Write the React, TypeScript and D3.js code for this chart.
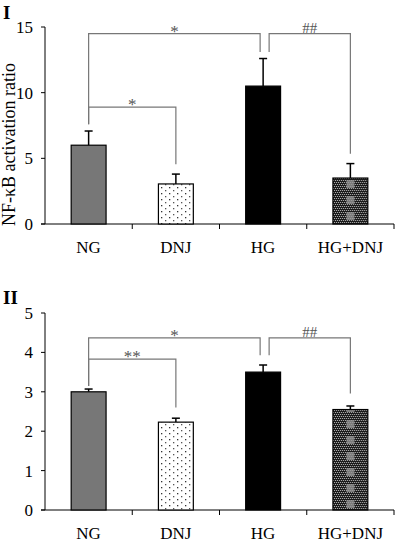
import React from 'react'
import * as d3 from 'd3'

const categories = ['NG', 'DNJ', 'HG', 'HG+DNJ']

// panel I: NF-kB activation ratio
const meansI = [6.0, 3.05, 10.5, 3.5]
const errorsI = [1.08, 0.75, 2.1, 1.1]
const ticksI = [0, 5, 10, 15]

// panel II
const meansII = [3.0, 2.23, 3.5, 2.55]
const errorsII = [0.07, 0.1, 0.18, 0.09]
const ticksII = [0, 1, 2, 3, 4, 5]

// significance brackets
type Bracket = { a: number; b: number; level: number; dropA: number; dropB: number; mark: string; gapLeft?: boolean }
const bracketsI: Bracket[] = [
  { a: 0, b: 2, level: 14.5, dropA: 7.6, dropB: 13.1, mark: '*' },
  { a: 0, b: 1, level: 8.9, dropA: 7.6, dropB: 4.55, mark: '*' },
  { a: 2, b: 3, level: 14.5, dropA: 13.1, dropB: 5.35, mark: '##', gapLeft: true },
]
const bracketsII: Bracket[] = [
  { a: 0, b: 2, level: 4.37, dropA: 3.15, dropB: 3.93, mark: '*' },
  { a: 0, b: 1, level: 3.83, dropA: 3.15, dropB: 2.6, mark: '**' },
  { a: 2, b: 3, level: 4.37, dropA: 3.93, dropB: 2.96, mark: '##', gapLeft: true },
]

const FONT = '"Liberation Serif", "Times New Roman", serif'
const fills = ['#777777', 'url(#dots)', '#000000', 'url(#checks)']

const left = 45
const right = 394
const x = d3.scaleBand<string>().domain(categories).range([left, right]).padding(0)
const bw = x.bandwidth() * 0.4
const cx = (i: number) => (x(categories[i]) as number) + x.bandwidth() / 2

interface PanelProps {
  title: string
  titleY: number
  means: number[]
  errors: number[]
  ticks: number[]
  brackets: Bracket[]
  top: number
  bottom: number
  yLabel?: string
}

const Panel: React.FC<PanelProps> = ({ title, titleY, means, errors, ticks, brackets, top, bottom, yLabel }) => {
  const y = d3.scaleLinear().domain([0, ticks[ticks.length - 1]]).range([bottom, top])
  const bounds = categories.map(c => (x(c) as number) + x.bandwidth())

  return (
    <g>
      <text x={3} y={titleY} fontFamily={FONT} fontWeight="bold" fontSize={19}>{title}</text>
      {yLabel && (
        <text transform={`translate(15,${bottom + 2}) rotate(-90)`} textAnchor="start"
          fontFamily={FONT} fontSize={18}>{yLabel}</text>
      )}
      {/* y axis */}
      <line x1={left} x2={left} y1={top} y2={bottom} stroke="#000" />
      {ticks.map(t => (
        <g key={t}>
          <line x1={left - 4} x2={left} y1={y(t)} y2={y(t)} stroke="#000" />
          <text x={left - 12} y={y(t)} dy="0.35em" textAnchor="end" fontFamily={FONT} fontSize={17}>{t}</text>
        </g>
      ))}
      {/* x axis */}
      <line x1={left - 4} x2={right} y1={bottom} y2={bottom} stroke="#000" />
      {bounds.map((b, i) => (
        <line key={i} x1={b} x2={b} y1={bottom} y2={bottom + 5} stroke="#000" />
      ))}
      {categories.map((c, i) => (
        <text key={c} x={cx(i)} y={bottom + 29} textAnchor="middle" fontFamily={FONT} fontSize={17}>{c}</text>
      ))}
      {/* bars */}
      {means.map((m, i) => (
        <g key={i}>
          <line x1={cx(i)} x2={cx(i)} y1={y(m)} y2={y(m + errors[i])} stroke="#000" strokeWidth={1.5} />
          <line x1={cx(i) - 4} x2={cx(i) + 4} y1={y(m + errors[i])} y2={y(m + errors[i])} stroke="#000" strokeWidth={1.5} />
          <rect x={cx(i) - bw / 2} y={y(m)} width={bw} height={bottom - y(m)} fill={fills[i]} stroke="#000" strokeWidth={1.2} />
        </g>
      ))}
      {/* significance brackets */}
      {brackets.map((br, i) => {
        const xa = cx(br.a) + (br.gapLeft ? 6 : 0)
        const xb = cx(br.b) - (br.b === 2 ? 3 : 0)
        const ly = y(br.level)
        const mx = (xa + xb) / 2
        return (
          <g key={i}>
            <path d={`M${xa},${y(br.dropA)}V${ly}H${xb}V${y(br.dropB)}`} fill="none" stroke="#777" strokeWidth={1.2} />
            <text x={mx} y={br.mark.startsWith('#') ? ly - 1 : ly + 3} textAnchor="middle" fontFamily={FONT}
              fontSize={br.mark.startsWith('#') ? 15 : 17} fill="#555">{br.mark}</text>
          </g>
        )
      })}
    </g>
  )
}

export default function App() {
  const px = cx(3) - bw / 2
  return (
    <svg width={402} height={556} style={{ position: 'absolute', left: 0, top: 0, background: '#fff' }}>
      <defs>
        <pattern id="dots" width={8} height={6} patternUnits="userSpaceOnUse">
          <rect width={8} height={6} fill="#fff" />
          <rect x={1} y={1} width={1.3} height={1.3} fill="#333" />
          <rect x={5} y={4} width={1.3} height={1.3} fill="#555" />
        </pattern>
        <pattern id="checks" x={px} y={0} width={bw} height={16} patternUnits="userSpaceOnUse">
          <rect width={bw} height={16} fill="#1a1a1a" />
          {d3.range(0, Math.ceil(bw), 2).flatMap(i => d3.range(0, 16, 2).map(j => (
            <rect key={`${i}-${j}`} x={i + ((j / 2) % 2)} y={j} width={1} height={1} fill="#bbb" />
          )))}
          <rect x={bw / 2 - 4} y={4} width={8} height={8} fill="#999" opacity={0.75} />
        </pattern>
      </defs>
      <Panel title="I" titleY={19} means={meansI} errors={errorsI} ticks={ticksI} brackets={bracketsI}
        top={27} bottom={224} yLabel="NF-κB activation ratio" />
      <Panel title="II" titleY={304} means={meansII} errors={errorsII} ticks={ticksII} brackets={bracketsII}
        top={313} bottom={510} />
    </svg>
  )
}
